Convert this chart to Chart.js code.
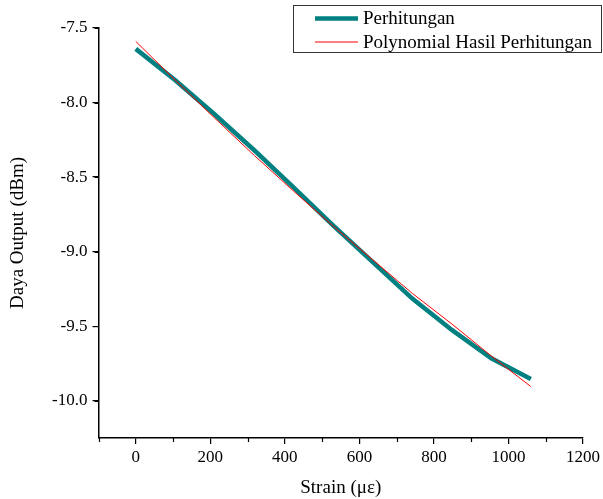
<!DOCTYPE html>
<html>
<head>
<meta charset="utf-8">
<script src="https://cdn.jsdelivr.net/npm/chart.js@4"></script>
<style>
  html, body { margin: 0; padding: 0; background: #fff; }
  #wrap { width: 603px; height: 499px; }
</style>
</head>
<body>
<div id="wrap"><canvas id="strainChart" width="603" height="499"></canvas></div>
<script>
// data
const strain = [0, 106, 212, 318, 424, 530, 636, 742, 848, 954, 1060];
const dayaPerhitungan = [-7.64, -7.85, -8.08, -8.32, -8.57, -8.825, -9.07, -9.315, -9.525, -9.715, -9.855];
const dayaPolynomial = [-7.59, -7.85, -8.105, -8.355, -8.595, -8.83, -9.055, -9.28, -9.485, -9.70, -9.905];
const legendLabels = ['Perhitungan', 'Polynomial Hasil Perhitungan'];

const serif = "'Liberation Serif', 'Times New Roman', serif";
const TEAL = '#008080';
const RED = '#ff0000';

const toPoints = (xs, ys) => xs.map((x, i) => ({x: x, y: ys[i]}));

// minor ticks (every 100 on x, every 0.25 on y) drawn shorter than the major ones
const minorTicks = {
  id: 'minorTicks',
  afterDraw(chart){
    const c = chart.ctx;
    const xs = chart.scales.x, ys = chart.scales.y;
    const area = chart.chartArea;
    c.save();
    c.strokeStyle = '#000';
    c.lineWidth = 1.2;
    c.beginPath();
    for(let v = -100; v <= 1200; v += 100){
      if(v % 200 === 0) continue;
      const px = Math.round(xs.getPixelForValue(v)) + 0.5;
      c.moveTo(px, area.bottom);
      c.lineTo(px, area.bottom + 4);
    }
    for(let k = 0; k <= 11; k++){
      const v = -10.25 + k * 0.25;
      if(k % 2 === 0) continue;
      const py = Math.round(ys.getPixelForValue(v)) + 0.5;
      c.moveTo(area.left, py);
      c.lineTo(area.left - 4, py);
    }
    c.stroke();
    c.restore();
  }
};

// boxed legend in the top right corner
const boxLegend = {
  id: 'boxLegend',
  afterDraw(chart){
    const c = chart.ctx;
    c.save();
    c.strokeStyle = '#333';
    c.lineWidth = 1;
    c.strokeRect(293.5, 5.5, 308, 47);
    const rows = [
      {label: legendLabels[0], color: TEAL, width: 4.5, y: 18.5},
      {label: legendLabels[1], color: RED, width: 1, y: 42}
    ];
    c.font = '19px ' + serif;
    c.textBaseline = 'middle';
    c.fillStyle = '#000';
    rows.forEach(r => {
      c.strokeStyle = r.color;
      c.lineWidth = r.width;
      c.beginPath();
      c.moveTo(315, r.y);
      c.lineTo(358, r.y);
      c.stroke();
      c.fillText(r.label, 363, r.y + 1);
    });
    c.restore();
  }
};

const ctx = document.getElementById('strainChart').getContext('2d');
const myChart = new Chart(ctx, {
  type: 'scatter',
  data: {
    datasets: [{
      label: legendLabels[0],
      data: toPoints(strain, dayaPerhitungan),
      showLine: true,
      borderColor: TEAL,
      backgroundColor: TEAL,
      borderWidth: 4.5,
      pointRadius: 0,
      order: 1
    },{
      label: legendLabels[1],
      data: toPoints(strain, dayaPolynomial),
      showLine: true,
      borderColor: RED,
      backgroundColor: RED,
      borderWidth: 1,
      pointRadius: 0,
      order: 0
    }]
  },
  options: {
    responsive: false,
    animation: false,
    layout: {padding: {top: 28, right: 17, left: 0, bottom: 0}},
    plugins: {
      legend: {display: false},
      tooltip: {enabled: false}
    },
    scales: {
      x: {
        type: 'linear',
        min: -100, max: 1200,
        afterFit: s => { s.height = 61; },
        grid: {
          drawOnChartArea: false, drawTicks: true, tickLength: 6,
          lineWidth: 1.2,
          color: c => (c.tick && c.tick.value % 200 === 0) ? '#000' : 'rgba(0,0,0,0)'
        },
        border: {display: true, color: '#000', width: 1.5},
        ticks: {
          stepSize: 100, padding: 3, color: '#000', maxRotation: 0, autoSkip: false,
          font: {family: serif, size: 17},
          callback: v => (v % 200 === 0 && v >= 0) ? String(v) : ''
        },
        title: {display: true, text: 'Strain (με)', color: '#000', font: {family: serif, size: 19}, padding: {top: 0, bottom: 0}}
      },
      y: {
        type: 'linear',
        min: -10.25, max: -7.5,
        afterFit: s => { s.width = 98.5; },
        grid: {
          drawOnChartArea: false, drawTicks: true, tickLength: 6,
          lineWidth: 1.2,
          color: c => (c.tick && Math.abs(c.tick.value * 2 - Math.round(c.tick.value * 2)) < 1e-6) ? '#000' : 'rgba(0,0,0,0)'
        },
        border: {display: true, color: '#000', width: 1.5},
        ticks: {
          stepSize: 0.25, padding: 5, color: '#000', autoSkip: false,
          font: {family: serif, size: 17},
          callback: v => Math.abs(v * 2 - Math.round(v * 2)) < 1e-6 ? v.toFixed(1) : ''
        },
        title: {display: true, text: 'Daya Output (dBm)', color: '#000', font: {family: serif, size: 19}, padding: {top: 7, bottom: 0}}
      }
    }
  },
  plugins: [minorTicks, boxLegend]
});
</script>
</body>
</html>
